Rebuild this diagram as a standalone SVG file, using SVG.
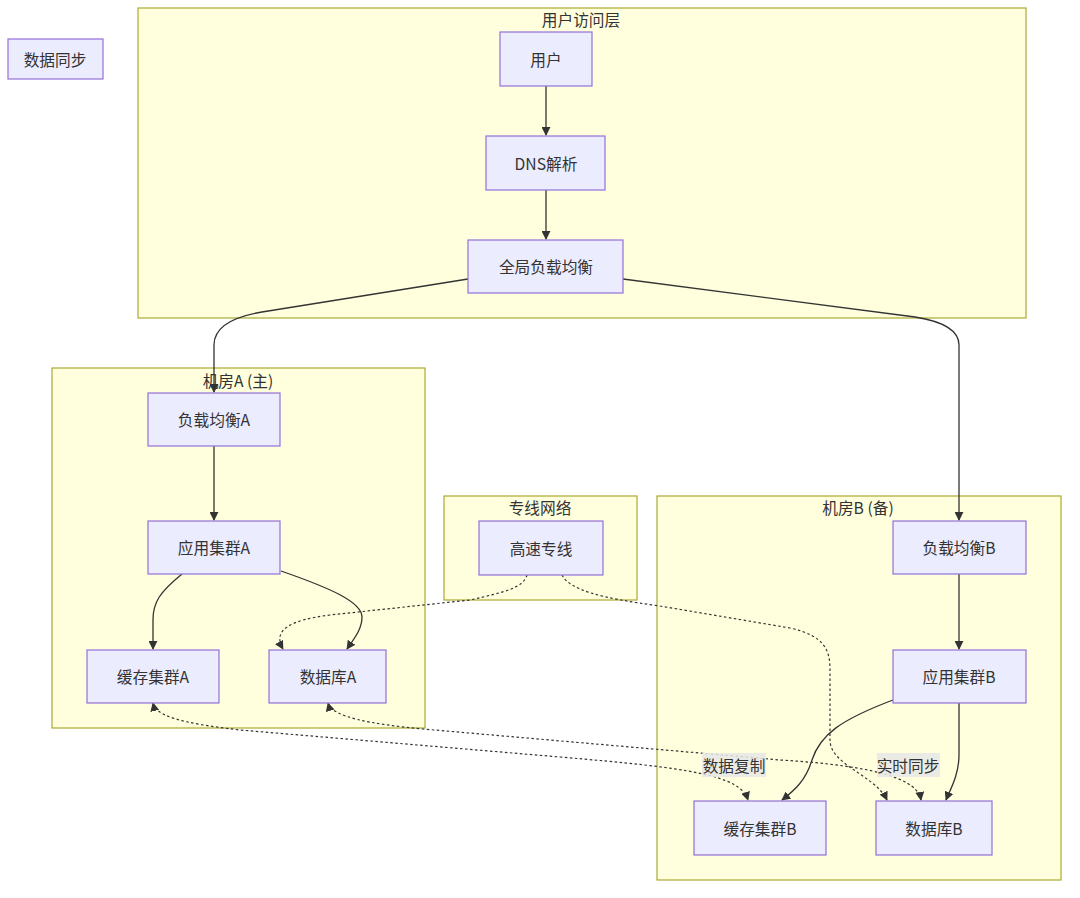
<svg xmlns="http://www.w3.org/2000/svg" width="1080" height="898" viewBox="0 0 1080 898">
<style>
text{font-family:"Noto Sans CJK SC","Noto Sans",sans-serif;font-size:15.7px;fill:#333;text-anchor:middle;dominant-baseline:central}
.cluster rect{fill:#ffffde;stroke:#aaaa33;stroke-width:1.2}
.node rect{fill:#ececff;stroke:#9370db;stroke-width:1.2}
.edge{fill:none;stroke:#333;stroke-width:1.3}
.dot{fill:none;stroke:#333;stroke-width:1.2;stroke-dasharray:2.5 2.5}
.lbl{fill:#e8e8e8;opacity:0.85}
</style>
<defs>
<marker id="arr" viewBox="0 0 10 10" refX="9" refY="5" markerWidth="9" markerHeight="9" markerUnits="userSpaceOnUse" orient="auto-start-reverse">
<path d="M0,0 L10,5 L0,10 z" fill="#333"/>
</marker>
</defs>
<rect width="1080" height="898" fill="#fff"/>
<g id="clusters">
<g id="cluster-user" class="cluster"><rect x="138" y="8" width="888" height="310"/><text x="581" y="19">用户访问层</text></g>
<g id="cluster-a" class="cluster"><rect x="52" y="368" width="373" height="360"/><text x="238" y="380">机房A (主)</text></g>
<g id="cluster-net" class="cluster"><rect x="444" y="496" width="193" height="104"/><text x="540" y="507">专线网络</text></g>
<g id="cluster-b" class="cluster"><rect x="657" y="496" width="404" height="384"/><text x="858" y="507">机房B (备)</text></g>
</g>
<g id="connectors">
<path class="edge" d="M546,86 L546,135" marker-end="url(#arr)"/>
<path class="edge" d="M546,190 L546,239" marker-end="url(#arr)"/>
<path class="edge" d="M468,279 L262,312 Q214,320 214,345 L214,392" marker-end="url(#arr)"/>
<path class="edge" d="M623,279 L915,317 Q959,324 959,345 L959,520" marker-end="url(#arr)"/>
<path class="edge" d="M214,446 L214,520" marker-end="url(#arr)"/>
<path class="edge" d="M182,574 C160,592 153,602 153,620 L153,649" marker-end="url(#arr)"/>
<path class="edge" d="M281,571 C330,588 362,602 362,617 C362,630 353,640 347,649" marker-end="url(#arr)"/>
<path class="edge" d="M959,574 L959,649" marker-end="url(#arr)"/>
<path class="edge" d="M893,700 C840,720 820,735 812,760 C806,780 795,790 782,800" marker-end="url(#arr)"/>
<path class="edge" d="M959,703 L959,755 C959,775 950,790 946,800" marker-end="url(#arr)"/>
<path class="dot" d="M527,575 C523,588 505,592 470,600 L330,615 C290,620 272,630 283,649" marker-end="url(#arr)"/>
<path class="dot" d="M562,575 C570,590 600,598 660,606 L790,628 C825,636 830,650 830,670 L830,740 C830,765 875,775 887,800" marker-end="url(#arr)"/>
<path class="dot" d="M153,703 C156,716 180,723 240,730 L560,757 C690,768 740,775 748,800" marker-start="url(#arr)" marker-end="url(#arr)"/>
<path class="dot" d="M328,703 C332,717 370,724 423,729 L780,760 C880,766 918,780 921,800" marker-start="url(#arr)" marker-end="url(#arr)"/>
<rect class="lbl" x="702" y="753" width="64" height="24"/>
<text x="734" y="765">数据复制</text>
<rect class="lbl" x="877" y="753" width="63" height="24"/>
<text x="908" y="765">实时同步</text>
</g>
<g id="n-sync" class="node"><rect x="8" y="39" width="95" height="40"/><text x="55" y="59">数据同步</text></g>
<g id="n-user" class="node"><rect x="500" y="32" width="92" height="54"/><text x="546" y="59">用户</text></g>
<g id="n-dns" class="node"><rect x="486" y="136" width="119" height="54"/><text x="546" y="163">DNS解析</text></g>
<g id="n-glb" class="node"><rect x="468" y="240" width="155" height="53"/><text x="546" y="266">全局负载均衡</text></g>
<g id="n-lba" class="node"><rect x="148" y="393" width="132" height="53"/><text x="214" y="419">负载均衡A</text></g>
<g id="n-appa" class="node"><rect x="148" y="521" width="132" height="53"/><text x="214" y="547">应用集群A</text></g>
<g id="n-cachea" class="node"><rect x="87" y="650" width="132" height="53"/><text x="153" y="676">缓存集群A</text></g>
<g id="n-dba" class="node"><rect x="269" y="650" width="117" height="53"/><text x="328" y="676">数据库A</text></g>
<g id="n-line" class="node"><rect x="479" y="521" width="124" height="54"/><text x="541" y="548">高速专线</text></g>
<g id="n-lbb" class="node"><rect x="893" y="521" width="133" height="53"/><text x="959" y="547">负载均衡B</text></g>
<g id="n-appb" class="node"><rect x="893" y="650" width="133" height="53"/><text x="959" y="676">应用集群B</text></g>
<g id="n-cacheb" class="node"><rect x="694" y="801" width="132" height="54"/><text x="760" y="828">缓存集群B</text></g>
<g id="n-dbb" class="node"><rect x="876" y="801" width="116" height="54"/><text x="934" y="828">数据库B</text></g>
</svg>
